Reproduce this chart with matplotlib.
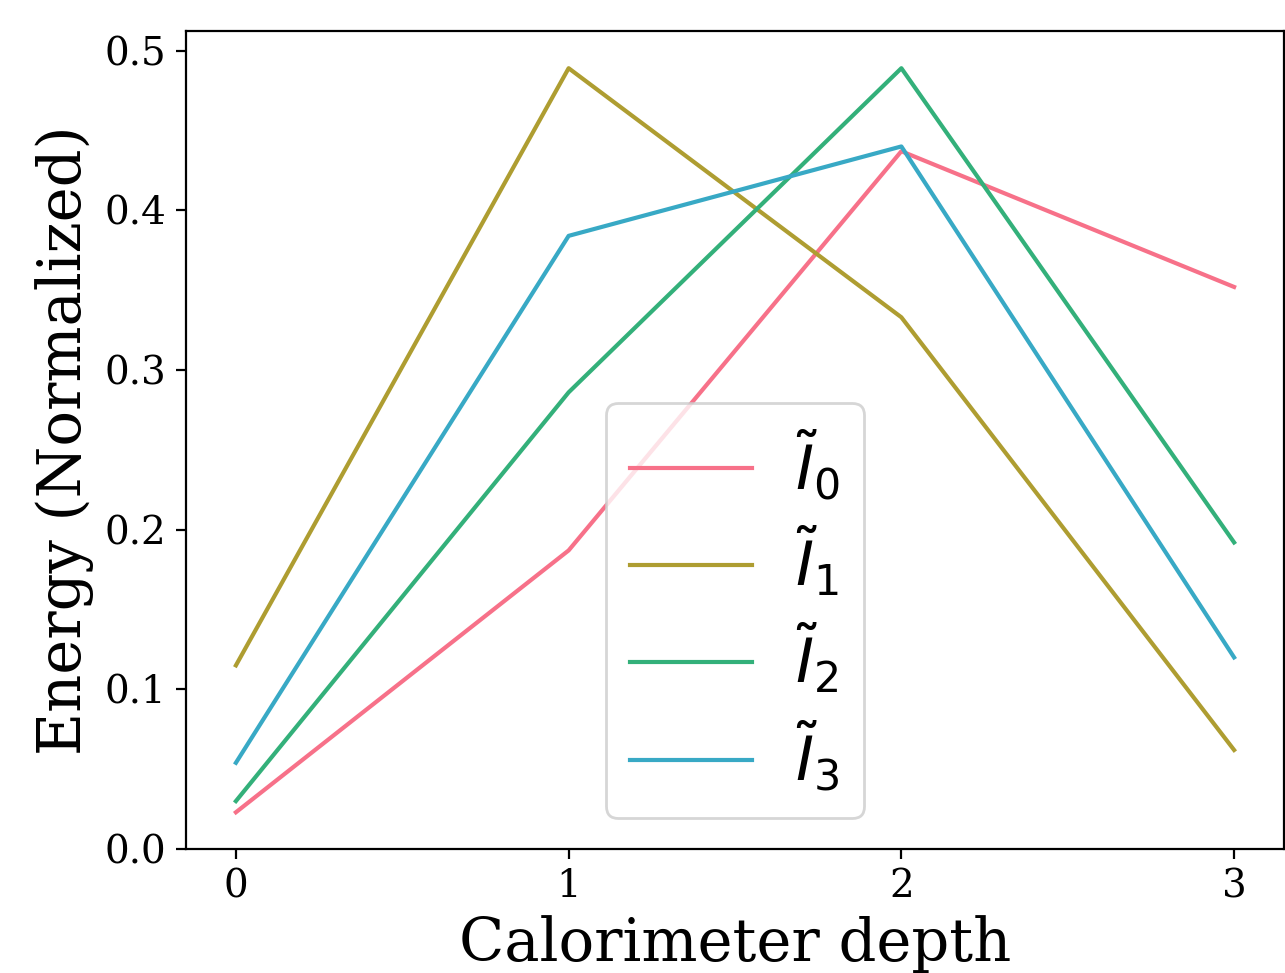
import numpy as np
import matplotlib
matplotlib.use('Agg')
import matplotlib.pyplot as plt

# Energy fraction per calorimeter layer
depth = [0, 1, 2, 3]
labels = [r'$\tilde{I}_0$', r'$\tilde{I}_1$', r'$\tilde{I}_2$', r'$\tilde{I}_3$']
energy_0 = [0.023, 0.187, 0.437, 0.352]
energy_1 = [0.115, 0.489, 0.333, 0.062]
energy_2 = [0.030, 0.286, 0.489, 0.192]
energy_3 = [0.054, 0.384, 0.440, 0.120]

plt.rcParams['font.family'] = 'DejaVu Serif'
plt.rcParams['mathtext.fontset'] = 'dejavusans'

# husl-like colours
colors = ['#f77189', '#ae9d31', '#33b07a', '#38a9c5']

fig = plt.figure(figsize=(6.425, 4.865), dpi=200)
ax = fig.add_axes([186 / 1285, 124 / 973, 1098 / 1285, 818 / 973])

for vals, lab, c in zip([energy_0, energy_1, energy_2, energy_3], labels, colors):
    ax.plot(depth, vals, color=c, lw=1.5, label=lab)

ax.set_ylim(bottom=0)
ax.set_xticks(depth)
ax.tick_params(labelsize=14)
ax.set_xlabel('Calorimeter depth', fontsize=21.3, labelpad=3.5)
ax.set_ylabel('Energy (Normalized)', fontsize=21.3)
ax.legend(fontsize=22, loc='lower center', labelspacing=0.37, handletextpad=0.7)

fig.savefig('out.png', dpi=200)
